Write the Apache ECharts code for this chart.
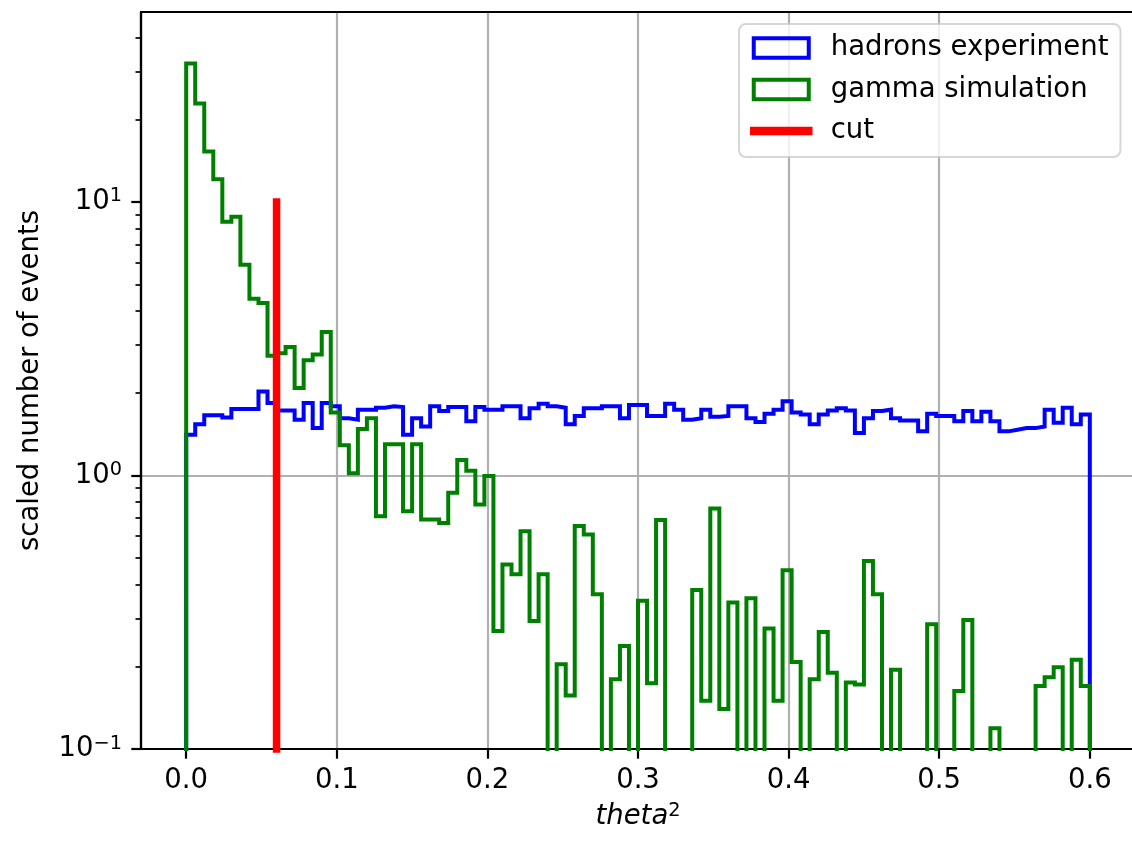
<!DOCTYPE html>
<html>
<head>
<meta charset="utf-8">
<script src="https://cdn.jsdelivr.net/npm/echarts@6/dist/echarts.min.js"></script>
<style>
  html, body { margin: 0; padding: 0; background: #fff; }
  #chart { width: 1132px; height: 842px; }
</style>
</head>
<body>
<div id="chart"></div>
<script>
// theta^2 histograms, 100 bins between 0 and 0.6 (0 = empty bin)
const binRange = [0, 0.6]
const binCount = 100

const hadrons = [
  1.41, 1.54, 1.66, 1.66, 1.63, 1.75, 1.75, 1.75, 2.03, 1.84,
  1.73, 1.73, 1.60, 1.84, 1.49, 1.84, 1.79, 1.62, 1.60, 1.74,
  1.74, 1.77, 1.79, 1.78, 1.41, 1.62, 1.51, 1.79, 1.72, 1.78,
  1.78, 1.58, 1.78, 1.74, 1.74, 1.79, 1.79, 1.62, 1.76, 1.83,
  1.79, 1.77, 1.54, 1.65, 1.76, 1.76, 1.79, 1.79, 1.62, 1.81,
  1.81, 1.65, 1.65, 1.83, 1.74, 1.60, 1.62, 1.74, 1.64, 1.65,
  1.79, 1.79, 1.62, 1.57, 1.68, 1.74, 1.87, 1.70, 1.67, 1.54,
  1.67, 1.73, 1.76, 1.73, 1.43, 1.62, 1.72, 1.74, 1.62, 1.59,
  1.59, 1.45, 1.68, 1.65, 1.65, 1.58, 1.72, 1.58, 1.71, 1.58,
  1.45, 1.47, 1.49, 1.49, 1.51, 1.74, 1.56, 1.77, 1.54, 1.67
]

const gamma = [
  32.1, 22.9, 15.3, 12.1, 8.47, 8.84, 5.89, 4.43, 4.27, 2.74,
  2.80, 2.95, 2.09, 2.64, 2.77, 3.35, 1.70, 1.29, 1.02, 1.48,
  1.62, 0.71, 1.30, 1.30, 0.74, 1.30, 0.69, 0.69, 0.67, 0.865,
  1.14, 1.04, 0.784, 0.995, 0.270, 0.473, 0.435, 0.626, 0.294, 0.435,
  0, 0.204, 0.157, 0.653, 0.609, 0.368, 0, 0.180, 0.238, 0,
  0.348, 0.174, 0.687, 0, 0, 0, 0.381, 0.150, 0.758, 0.140,
  0.343, 0, 0.356, 0, 0.276, 0.150, 0.450, 0.208, 0, 0.180,
  0.268, 0.190, 0, 0.175, 0.172, 0.487, 0.368, 0, 0.195, 0,
  0, 0, 0.286, 0, 0, 0.163, 0.296, 0, 0, 0.119,
  0, 0, 0, 0, 0.170, 0.183, 0.199, 0, 0.212, 0.170
]

const cutX = 0.06
const cutTop = 10

const xTicks = [0, 0.1, 0.2, 0.3, 0.4, 0.5, 0.6]
const yTicks = [0.1, 1, 10]
const yMinorTicks = [0.2, 0.3, 0.4, 0.5, 0.6, 0.7, 0.8, 0.9, 2, 3, 4, 5, 6, 7, 8, 9, 20, 30, 40]

const names = ['hadrons experiment', 'gamma simulation', 'cut']

const FONT = 'DejaVu Sans'
const FS = 27.5
const floorValue = 0.01 // below the axis, empty bins drop out of the plot

function stepPoints (values) {
  const w = (binRange[1] - binRange[0]) / binCount
  const pts = [[binRange[0], floorValue]]
  values.forEach((v, i) => {
    const y = v > 0 ? v : floorValue
    pts.push([binRange[0] + i * w, y], [binRange[0] + (i + 1) * w, y])
  })
  pts.push([binRange[1], floorValue])
  return pts
}

function supLabel (v) {
  const e = Math.round(Math.log10(v))
  return '{b|10}{e|' + (e < 0 ? '\u2212' + (-e) : e) + '}'
}

const myChart = echarts.init(document.getElementById('chart'))

const option = {
  animation: false,
  backgroundColor: '#ffffff',
  textStyle: { fontFamily: FONT, color: '#000' },
  grid: {
    left: 141,
    top: 12,
    width: 994,
    height: 737,
    outerBoundsMode: 'none',
    containLabel: false
  },
  legend: {
    orient: 'vertical',
    left: 739,
    top: 24,
    padding: [10, 12, 12, 11],
    itemGap: 13.5,
    itemWidth: 55,
    itemHeight: 19.3,
    backgroundColor: 'rgba(255,255,255,0.8)',
    borderColor: 'rgba(204,204,204,0.8)',
    borderWidth: 2,
    borderRadius: 7,
    selectedMode: false,
    formatter: name => '{t|' + name + '}',
    textStyle: {
      rich: {
        t: { fontFamily: FONT, fontSize: FS, color: '#000', lineHeight: 28, padding: [0, 0, 0, 17] }
      }
    },
    data: [
      { name: names[0], icon: 'rect', itemStyle: { color: 'rgba(0,0,0,0)', borderColor: '#0000ff', borderWidth: 4 } },
      { name: names[1], icon: 'rect', itemStyle: { color: 'rgba(0,0,0,0)', borderColor: '#008000', borderWidth: 4 } },
      { name: names[2], icon: 'path://M0,0H55V1H0Z', itemStyle: { color: '#ff0000', borderColor: '#ff0000', borderWidth: 7.5 } }
    ]
  },
  xAxis: [{
    type: 'value',
    position: 'bottom',
    min: -0.03,
    max: 0.63,
    splitNumber: 7,
    name: '{i|theta}{s|2}',
    nameLocation: 'middle',
    nameGap: 52,
    nameTextStyle: {
      rich: {
        i: { fontFamily: FONT, fontSize: FS, fontStyle: 'italic', color: '#000', lineHeight: 32 },
        s: { fontFamily: FONT, fontSize: 19.3, color: '#000', verticalAlign: 'top', lineHeight: 12 }
      }
    },
    axisLine: { show: true, onZero: false, lineStyle: { color: '#000', width: 2.2 } },
    axisTick: { show: true, customValues: xTicks, length: 9.7, lineStyle: { color: '#000', width: 2.2 } },
    axisLabel: {
      customValues: xTicks,
      margin: 18,
      fontFamily: FONT,
      fontSize: FS,
      color: '#000',
      formatter: v => v.toFixed(1)
    },
    splitLine: { show: true, showMinLine: false, showMaxLine: false, lineStyle: { color: '#b0b0b0', width: 2.2 } }
  }, {
    type: 'value',
    position: 'top',
    min: -0.03,
    max: 0.63,
    axisLine: { show: true, onZero: false, lineStyle: { color: '#000', width: 2.2 } },
    axisTick: { show: false },
    axisLabel: { show: false },
    splitLine: { show: false }
  }, {
    // helper axis: its zero sits on the left spine, the minor-tick axis snaps to it
    type: 'value',
    position: 'top',
    min: 0,
    max: 1,
    axisLine: { show: false, onZero: false },
    axisTick: { show: false },
    axisLabel: { show: false },
    splitLine: { show: false }
  }],
  yAxis: [{
    type: 'log',
    logBase: 10,
    position: 'left',
    min: 0.1,
    max: 49.5,
    name: 'scaled number of events',
    nameLocation: 'middle',
    nameRotate: 90,
    nameGap: 96,
    nameTextStyle: { fontFamily: FONT, fontSize: FS, color: '#000' },
    axisLine: { show: true, onZero: false, lineStyle: { color: '#000', width: 2.2 } },
    axisTick: { show: true, customValues: yTicks, length: 9.7, lineStyle: { color: '#000', width: 2.2 } },
    axisLabel: {
      customValues: yTicks,
      margin: 19,
      formatter: supLabel,
      rich: {
        b: { fontFamily: FONT, fontSize: FS, color: '#000', lineHeight: 30 },
        e: { fontFamily: FONT, fontSize: 19.3, color: '#000', verticalAlign: 'top', lineHeight: 12 }
      }
    },
    splitLine: { show: true, showMinLine: false, showMaxLine: false, lineStyle: { color: '#b0b0b0', width: 2.2 } }
  }, {
    // minor ticks at 2..9 x 10^k
    type: 'log',
    logBase: 10,
    position: 'left',
    min: 0.1,
    max: 49.5,
    axisLine: { show: true, onZero: true, onZeroAxisIndex: 2, lineStyle: { color: '#000', width: 2.2 } },
    axisTick: { show: true, customValues: yMinorTicks, length: 5.5, lineStyle: { color: '#000', width: 1.7 } },
    axisLabel: { show: false },
    splitLine: { show: false }
  }],
  series: [{
    name: names[0],
    type: 'line',
    xAxisIndex: 0,
    yAxisIndex: 0,
    symbol: 'none',
    clip: true,
    color: '#0000ff',
    lineStyle: { color: '#0000ff', width: 4, join: 'miter' },
    data: stepPoints(hadrons),
    z: 2
  }, {
    name: names[1],
    type: 'line',
    xAxisIndex: 0,
    yAxisIndex: 0,
    symbol: 'none',
    clip: true,
    color: '#008000',
    lineStyle: { color: '#008000', width: 4, join: 'miter' },
    data: stepPoints(gamma),
    z: 3
  }, {
    name: names[2],
    type: 'line',
    xAxisIndex: 0,
    yAxisIndex: 0,
    symbol: 'none',
    clip: true,
    color: '#ff0000',
    lineStyle: { color: '#ff0000', width: 7.5, cap: 'square' },
    data: [[cutX, floorValue], [cutX, cutTop]],
    z: 4
  }]
}

myChart.setOption(option)
window.addEventListener('resize', function () {
  myChart.resize()
})
</script>
</body>
</html>
